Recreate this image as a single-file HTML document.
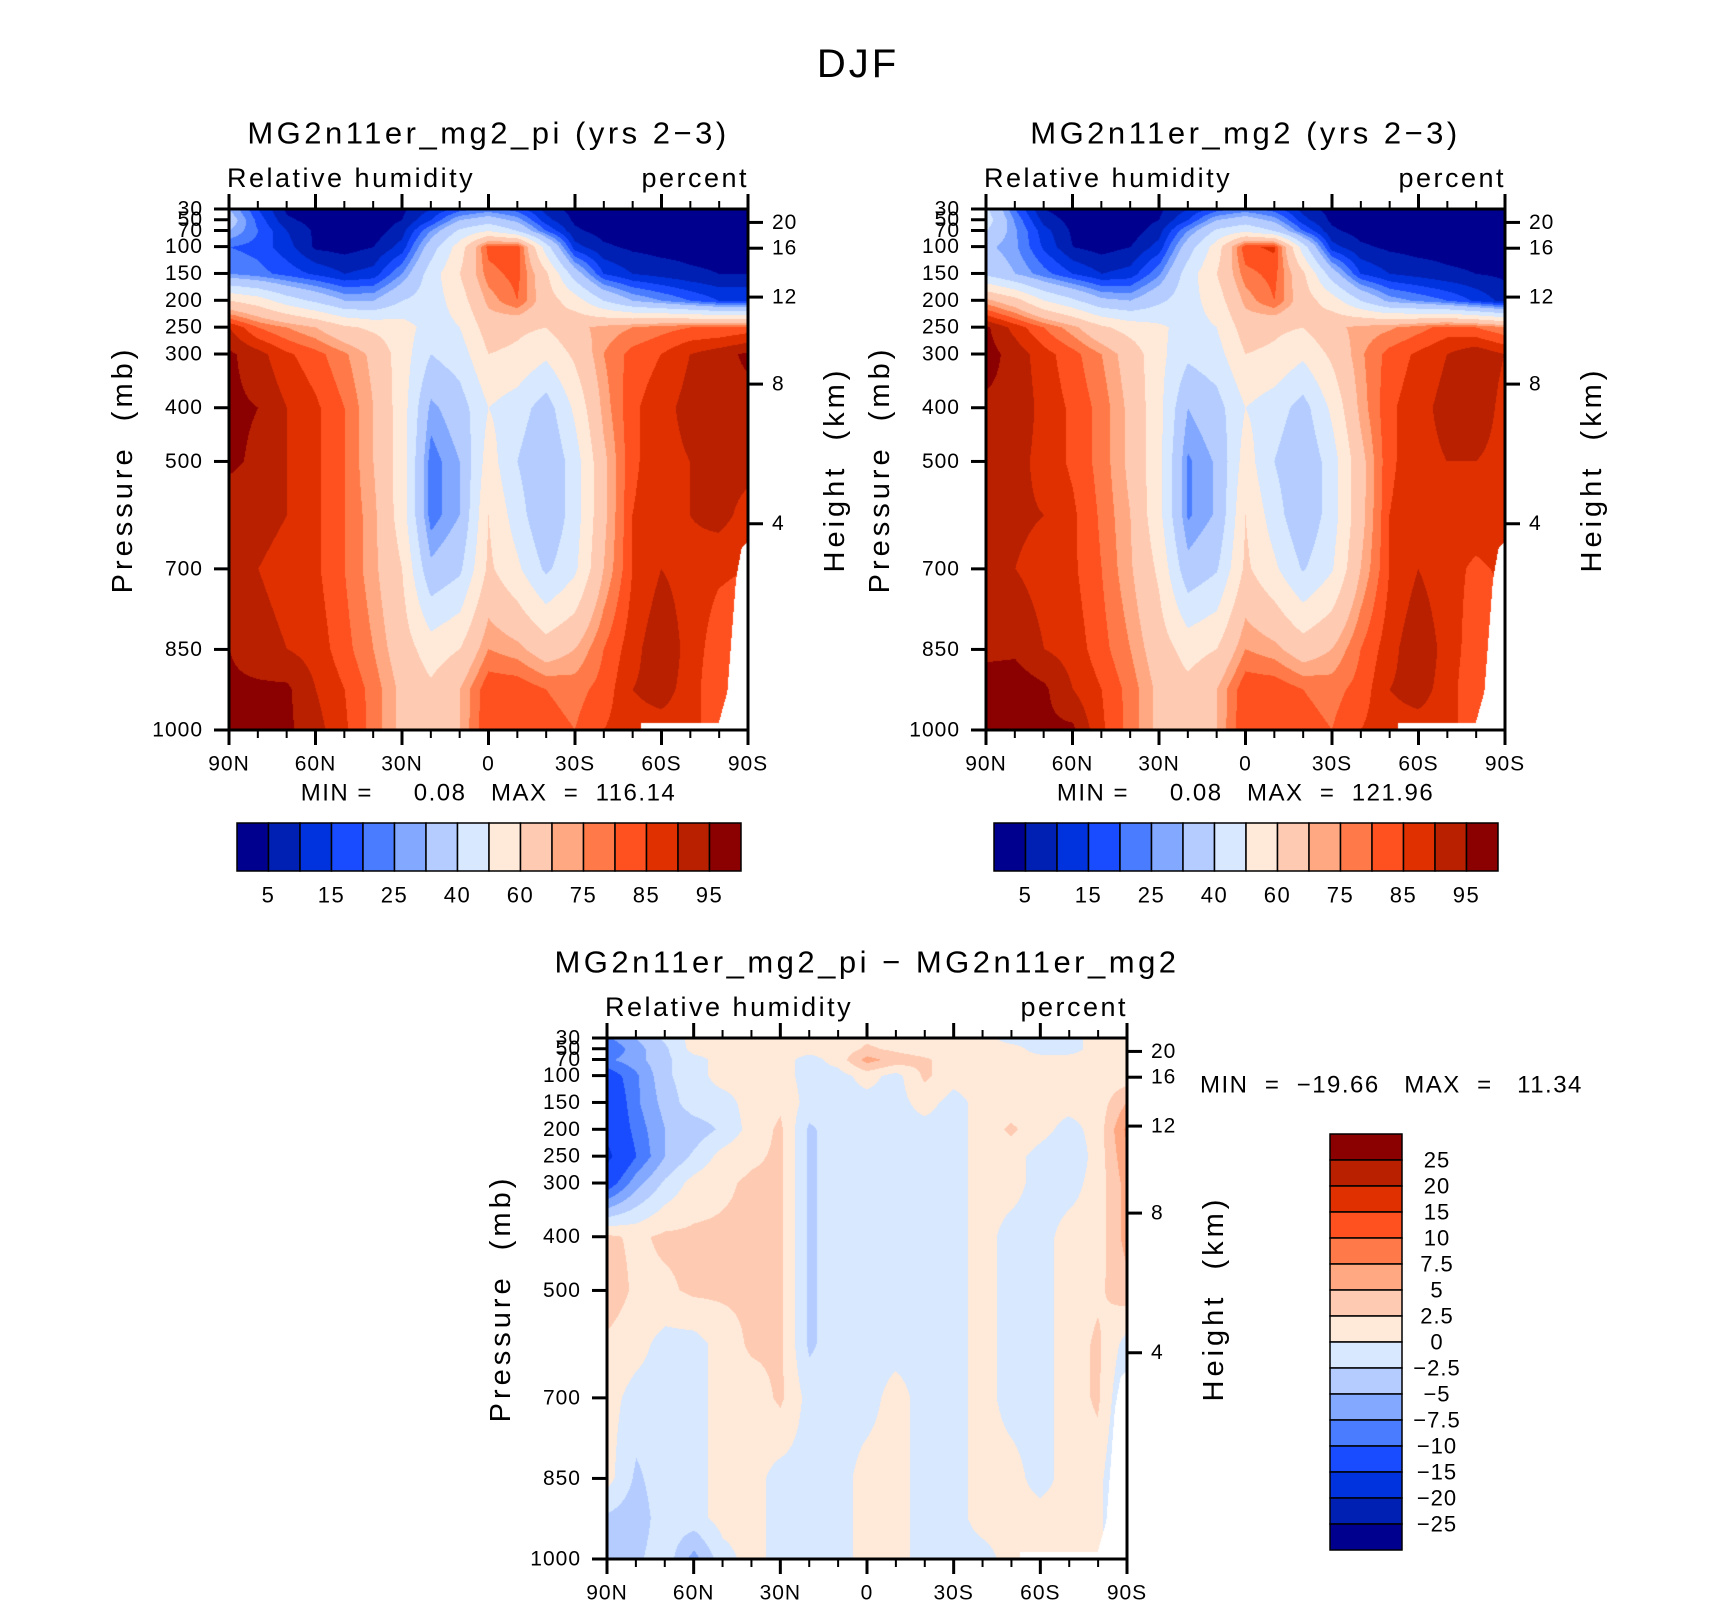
<!DOCTYPE html>
<html><head><meta charset="utf-8">
<style>
html,body{margin:0;padding:0;background:#fff;}
#root{position:relative;width:1710px;height:1606px;overflow:hidden;font-family:"Liberation Sans",sans-serif;}
canvas{position:absolute;}
svg{position:absolute;left:0;top:0;}
svg text{white-space:pre;}
</style></head>
<body>
<div id="root">
<canvas id="c1" style="left:229px;top:209px" width="519" height="521"></canvas>
<canvas id="c2" style="left:986px;top:209px" width="519" height="521"></canvas>
<canvas id="c3" style="left:607px;top:1038px" width="520" height="521"></canvas>
<svg id="s" width="1710" height="1606" xml:space="preserve"></svg>
</div>
<script>
const lats=[90,80,70,60,50,40,30,20,10,0,-10,-20,-30,-40,-50,-60,-70,-80,-90];
const latTicks=[90,60,30,0,-30,-60,-90];
const latTickLabels=["90N","60N","30N","0","30S","60S","90S"];
const pLevs=[30,50,70,100,150,200,250,300,400,500,600,700,850,925,1000];
const pTicks=[30,50,70,100,150,200,250,300,400,500,700,850,1000];
const hTickLabels=["20","16","12","8","4"];
const hTickP=[55,103,194,356,616];
const rhLevels=[5,10,15,20,25,30,40,50,60,70,75,80,85,90,95];
const rhLabels=["5","15","25","40","60","75","85","95"];
const diffLevels=[-25,-20,-15,-10,-7.5,-5,-2.5,0,2.5,5,7.5,10,15,20,25];
const diffLabels=["25","20","15","10","7.5","5","2.5","0","\u22122.5","\u22125","\u22127.5","\u221210","\u221215","\u221220","\u221225"];
const colors=["#00008F","#0020B4","#0033DD","#1A4CFF","#4A7CFF","#82A8FF","#B4CCFF","#D7E8FF","#FFEADA","#FFCAB2","#FFA882","#FF7A48","#FF5020","#E03000","#B82000","#8B0000"];
const maskLat=[-52,-53,-80,-83,-86,-88,-90];
const maskP=[1000,988,988,930,720,660,650];
const rhPI=[
[30,15,4,2,2,2,4,10,18,22,18,8,3,2,2,2,2,2,2],
[35,18,6,3,2,2,5,15,30,35,28,12,4,2,2,2,2,2,2],
[30,20,10,4,2,2,8,25,42,50,40,20,6,3,2,2,2,2,2],
[20,18,12,4,3,5,12,35,55,82,84,45,12,6,4,3,3,3,3],
[25,22,18,14,10,12,25,45,60,78,82,62,35,15,10,8,6,5,5],
[60,55,45,38,30,30,40,45,55,72,80,65,55,40,30,25,20,15,15],
[90,80,75,70,62,58,55,45,50,65,62,60,68,72,75,78,80,80,82],
[96,92,86,82,76,68,55,40,45,60,58,52,62,75,82,85,90,93,96],
[96,95,90,86,80,70,55,28,35,50,45,35,52,72,84,88,92,94,93],
[96,94,90,86,80,70,55,22,30,55,40,30,45,68,84,88,90,92,92],
[92,92,90,86,80,72,55,22,30,60,45,30,45,68,85,88,90,92,88],
[92,90,88,86,80,72,60,32,38,62,52,38,48,70,85,90,88,86,85],
[95,92,90,88,82,75,65,55,60,75,72,65,70,80,88,94,88,82,80],
[96,96,96,90,85,78,68,62,70,84,84,80,78,82,90,92,88,80,80],
[96,96,96,92,86,78,68,62,70,85,84,82,80,85,88,88,88,80,80]];
const rhMG2=[
[42,20,5,2,2,2,4,10,18,22,18,8,3,2,2,2,2,2,2],
[45,24,8,3,2,2,5,15,30,35,28,12,4,2,2,2,2,2,2],
[40,26,12,4,2,2,8,25,42,48,40,20,6,3,2,2,2,2,2],
[32,26,14,5,3,5,12,35,55,84,86,45,12,6,4,3,3,3,3],
[38,30,22,15,10,12,24,45,60,78,82,62,35,15,10,8,6,5,4],
[72,64,50,42,32,30,38,46,55,72,80,65,55,40,28,24,20,14,8],
[96,88,80,72,62,56,52,46,50,65,62,60,68,72,74,78,82,80,76],
[97,93,87,82,75,66,53,42,46,60,58,52,62,74,82,86,90,94,90],
[94,94,88,84,78,68,53,30,36,50,45,36,52,72,84,88,92,94,88],
[93,92,88,84,78,68,53,24,31,55,40,31,45,67,84,88,90,90,88],
[90,91,90,86,79,70,53,24,31,60,45,31,45,67,85,88,89,88,88],
[91,90,88,86,80,71,58,33,39,62,52,39,49,70,85,90,87,84,86],
[94,94,90,88,82,75,65,56,60,75,72,65,70,80,88,94,88,82,82],
[97,98,96,90,85,78,68,63,70,84,84,80,78,82,90,92,88,80,82],
[97,97,96,96,86,78,68,63,70,85,84,82,80,85,88,88,88,80,82]];
const rhDiff=[
[-8,-5,-2,1,1,1,1,1,1,2,1,1,1,1,-1,-1,-1,1,1],
[-10,-6,-3,1,1,1,1,1,1,3,2,1,1,1,1,-1,-1,1,1],
[-8,-6,-3,-1,1,1,1,-1,1,6,4,3,1,1,1,1,1,1,1],
[-12,-8,-3,-1,1,1,1,-1,-1,1,-1,3,1,1,1,1,1,1,1],
[-14,-8,-4,-1,-1,1,2,-1,-1,-1,-1,1,-1,1,1,1,1,1,5],
[-14,-9,-5,-4,-2,1,3,-3,-1,-1,-1,-1,-1,1,3,1,-1,1,8],
[-16,-10,-5,-2,1,2,3,-3,-1,-1,-1,-1,-1,1,1,-1,-2,1,7],
[-12,-6,-2,1,2,3,3,-3,-1,-1,-1,-1,-1,1,1,-1,-1,1,6],
[3,2,3,3,3,3,3,-3,-1,-1,-1,-1,-1,1,-1,-1,1,1,6],
[4,2,2,3,3,3,3,-3,-1,-1,-1,-1,-1,1,-1,-1,1,2,4],
[2,1,-1,-1,1,3,3,-3,-1,-1,-1,-1,-1,1,-1,-1,1,3,-1],
[1,-1,-1,-1,1,1,3,-1,-1,-1,1,-1,-1,1,-1,-1,1,3,-3],
[1,-3,-1,-1,1,1,-1,-1,-1,1,1,-1,-1,1,1,-1,1,1,-4],
[-3,-4,-1,-1,1,1,-1,-1,-1,1,1,-1,-1,1,1,1,1,1,-4],
[-4,-3,-1,-6,-1,1,-1,-1,-1,1,1,-1,-1,-1,1,1,1,1,-4]];

function bottomP(lat){
  if(lat>maskLat[0])return 1000;
  if(lat>maskLat[1])return maskP[0];
  for(let i=1;i<maskLat.length-1;i++){
    if(lat<=maskLat[i]&&lat>=maskLat[i+1]){const t=(maskLat[i]-lat)/(maskLat[i]-maskLat[i+1]);return maskP[i]+t*(maskP[i+1]-maskP[i]);}
  }
  return maskP[maskP.length-1];
}
function interp(data,lat,p){
  let fi=(90-lat)/10; let i0=Math.min(Math.floor(fi),lats.length-2); let tx=fi-i0;
  let j0=0; while(j0<pLevs.length-2&&p>pLevs[j0+1])j0++;
  let ty=(p-pLevs[j0])/(pLevs[j0+1]-pLevs[j0]);
  const a=data[j0][i0],b=data[j0][i0+1],c=data[j0+1][i0],d=data[j0+1][i0+1];
  return (a*(1-tx)+b*tx)*(1-ty)+(c*(1-tx)+d*tx)*ty;
}
function drawField(id,data,levels){
  const cv=document.getElementById(id),ctx=cv.getContext('2d');
  const W=cv.width,H=cv.height,img=ctx.createImageData(W,H);
  const rgb=colors.map(c=>[parseInt(c.substr(1,2),16),parseInt(c.substr(3,2),16),parseInt(c.substr(5,2),16)]);
  for(let y=0;y<H;y++){const p=30+y/(H-1)*970;
    for(let x=0;x<W;x++){const lat=90-x/(W-1)*180;const k=(y*W+x)*4;
      if(p>bottomP(lat)){img.data[k]=255;img.data[k+1]=255;img.data[k+2]=255;img.data[k+3]=255;continue;}
      const v=interp(data,lat,p);let ci=0;while(ci<levels.length&&v>=levels[ci])ci++;
      const c=rgb[ci];img.data[k]=c[0];img.data[k+1]=c[1];img.data[k+2]=c[2];img.data[k+3]=255;}}
  ctx.putImageData(img,0,0);
}
drawField('c1',rhPI,rhLevels);
drawField('c2',rhMG2,rhLevels);
drawField('c3',rhDiff,diffLevels);

const NS='http://www.w3.org/2000/svg',svg=document.getElementById('s');
function el(tag,attrs,txt){const e=document.createElementNS(NS,tag);for(const k in attrs)e.setAttribute(k,attrs[k]);if(txt!==undefined)e.textContent=txt;svg.appendChild(e);return e;}
function txt(x,y,s,size,anchor,name,rot,ls){
  const e=el('text',{x:x,y:y,'font-size':size,'text-anchor':anchor||'middle','font-family':'Liberation Sans, sans-serif',fill:'#000','dominant-baseline':'central','letter-spacing':(ls||0)+'px'},s);
  if(rot)e.setAttribute('transform','rotate(-90 '+x+' '+y+')');
  
  
  return e;
}
txt(858,64,'DJF',40,'middle','figure-title',false,3);
function axes(L,T,W,H,title,pfx,minmax){
  const xs=lat=>L+(90-lat)/180*W, ys=p=>T+(p-30)/970*H;
  txt(L+W/2,T-76,title,31,'middle',pfx+'-title',false,3.5);
  txt(L-2,T-31,'Relative humidity',27,'start',pfx+'-variable-label',false,2.5);
  txt(L+W+1,T-31,'percent',27,'end',pfx+'-units-label',false,2.5);
  const fr=el('rect',{x:L,y:T,width:W,height:H,fill:'none',stroke:'#000','stroke-width':3});
  
  
  for(let lat=90;lat>=-90;lat-=10){const x=xs(lat),maj=lat%30===0,len=maj?15:8;
    const t1=el('line',{x1:x,y1:T,x2:x,y2:T-len,stroke:'#000','stroke-width':maj?3:2});
    
    
    const t2=el('line',{x1:x,y1:T+H,x2:x,y2:T+H+len,stroke:'#000','stroke-width':maj?3:2});
    
    }
  latTicks.forEach((lat,i)=>txt(xs(lat),T+H+34,latTickLabels[i],21,'middle',pfx+'-x-tick-label',false,1));
  pTicks.forEach(p=>{const y=ys(p);
    const t=el('line',{x1:L,y1:y,x2:L-15,y2:y,stroke:'#000','stroke-width':3});
    
    
    txt(L-26,y,String(p),21,'end',pfx+'-y-tick-label',false,1);});
  hTickP.forEach((p,i)=>{const y=ys(p);
    const t=el('line',{x1:L+W,y1:y,x2:L+W+15,y2:y,stroke:'#000','stroke-width':3});
    
    
    txt(L+W+24,y,hTickLabels[i],21,'start',pfx+'-height-tick-label',false,1);});
  txt(L-106,T+H*0.50,'Pressure  (mb)',29,'middle',pfx+'-y-axis-title',true,4);
  txt(L+W+87,T+H*0.50,'Height  (km)',29,'middle',pfx+'-height-axis-title',true,4);
  if(minmax)txt(L+W/2,T+H+63,minmax,24,'middle',pfx+'-min-max',false,1.5);
}
axes(229,209,519,521,'MG2n11er_mg2_pi (yrs 2\u22123)','pi-panel','MIN =     0.08   MAX  =  116.14');
axes(986,209,519,521,'MG2n11er_mg2 (yrs 2\u22123)','mg2-panel','MIN =     0.08   MAX  =  121.96');
axes(607,1038,520,521,'MG2n11er_mg2_pi \u2212 MG2n11er_mg2','diff-panel',null);
txt(1200,1085,'MIN  =  \u221219.66   MAX  =   11.34',24,'start','diff-min-max',false,1.5);

function hbar(L,T,W,H,pfx){
  const bw=W/colors.length;
  colors.forEach((c,i)=>{const r=el('rect',{x:L+i*bw,y:T,width:bw,height:H,fill:c,stroke:'#000','stroke-width':1.5});
    
    });
  rhLabels.forEach((s,i)=>txt(L+(2*i+1)*bw,T+H+24,s,22,'middle',pfx+'-colorbar-label',false,1.5));
}
hbar(237,823,504,48,'pi');
hbar(994,823,504,48,'mg2');
(function(){const L=1330,T=1134,W=72,bh=26;
  for(let i=0;i<colors.length;i++){const r=el('rect',{x:L,y:T+i*bh,width:W,height:bh,fill:colors[colors.length-1-i],stroke:'#000','stroke-width':1.5});
    
    }
  diffLabels.forEach((s,i)=>txt(1437,T+(i+1)*bh,s,22,'middle','diff-colorbar-label',false,1));
})();
</script>
</body></html>
